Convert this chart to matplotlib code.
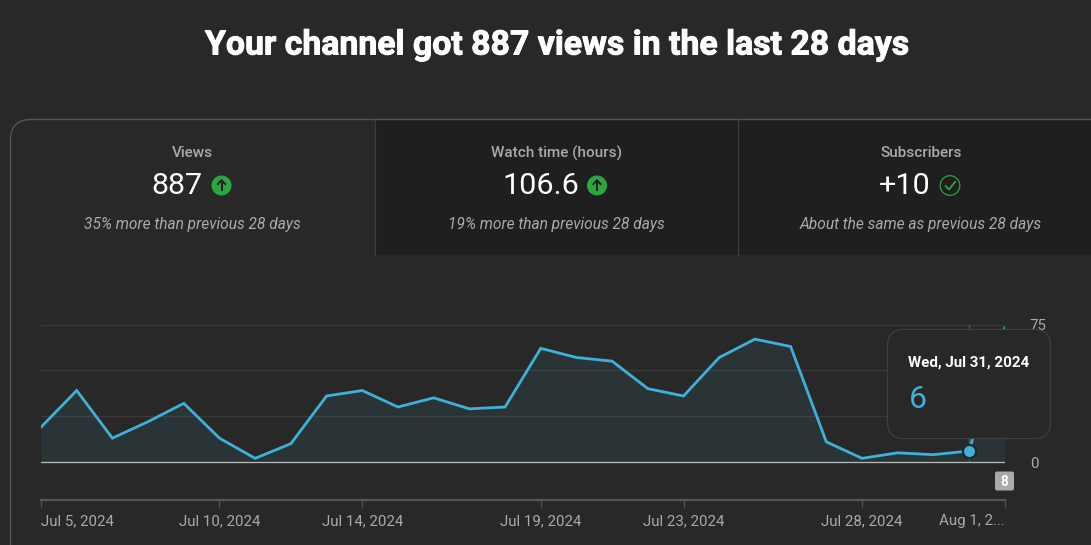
import matplotlib
matplotlib.use("Agg")
import matplotlib.pyplot as plt
import matplotlib.patheffects as pe
from matplotlib.patches import FancyBboxPatch, Rectangle, Circle, PathPatch
from matplotlib.path import Path

plt.rcParams['font.family'] = ['Roboto', 'DejaVu Sans']

W, H = 1091, 545
BG, TAB_DARK = '#282828', '#1f1f1f'
BLUE = '#3fb1d8'
px = 0.72  # font points per pixel at dpi 100

title = 'Your channel got 887 views in the last 28 days'
cards = ['Views', 'Watch time (hours)', 'Subscribers']
card_values = ['887', '106.6', '+10']
card_notes = ['35% more than previous 28 days', '19% more than previous 28 days',
              'About the same as previous 28 days']
views = [19, 39, 13, 22, 32, 13, 2, 10, 36, 39, 30, 35, 29, 30,
         62, 57, 55, 40, 36, 57, 67, 63, 11, 2, 5, 4, 6, 73]
tick_days = [0, 5, 9, 14, 18, 23, 27]
tick_labels = ['Jul 5, 2024', 'Jul 10, 2024', 'Jul 14, 2024', 'Jul 19, 2024',
               'Jul 23, 2024', 'Jul 28, 2024', 'Aug 1, 2...']
y_ticks = [0, 25, 50, 75]
y_labels = ['0', '', '', '75']
hover_day = 26
hover_date = 'Wed, Jul 31, 2024'
badge = '8'

fig = plt.figure(figsize=(W / 100, H / 100), dpi=100, facecolor=BG)

def pixel_axes(z):
    a = fig.add_axes([0, 0, 1, 1], zorder=z)
    a.set_xlim(0, W); a.set_ylim(H, 0); a.axis('off')
    a.patch.set_alpha(0)
    return a

bg = pixel_axes(0)
# dark tabs, separators, card outline
bg.add_patch(Rectangle((375, 120), W - 375, 135, fc=TAB_DARK, ec='none'))
for x in (374.5, 738):
    bg.plot([x, x], [120, 255], color='#3d3d3d', lw=0.9)
card = Path([(10.5, 545), (10.5, 140), (10.5, 119.5), (31, 119.5), (1091, 119.5)],
            [Path.MOVETO, Path.LINETO, Path.CURVE3, Path.CURVE3, Path.LINETO])
bg.add_patch(PathPatch(card, fc='none', ec='#555555', lw=1.0))

tt = bg.text(556.5, 45.5, title, color='white', fontsize=33.8 * px, fontweight='bold',
             ha='center', va='center')
tt.set_path_effects([pe.withStroke(linewidth=0.7, foreground='white')])

centers = [192.5, 556.5, 921]
val_x = [176.5, 541, 905]
icon_x = [221.5, 597, 950]
for i, (c, v) in enumerate(zip(centers, val_x)):
    bg.text(c, 153, cards[i], color='#aaaaaa', fontsize=15.2 * px, fontweight='medium',
            ha='center', va='center')
    bg.text(v, 186, card_values[i], color='white', fontsize=30.5 * px, ha='center', va='center')
    bg.text(c, 224, card_notes[i], color='#aaaaaa', fontsize=15.5 * px, style='italic',
            ha='center', va='center')
for x in icon_x[:2]:
    bg.add_patch(Circle((x, 185.5), 10, fc='#2ba640', ec='none'))
    bg.plot([x, x], [191, 180.5], color='#1f1f1f', lw=1.4, solid_capstyle='butt')
    bg.plot([x - 3.6, x, x + 3.6], [184, 180.2, 184], color='#1f1f1f', lw=1.4)
bg.add_patch(Circle((icon_x[2], 185.5), 9.8, fc='none', ec='#2ba640', lw=0.9))
bg.plot([icon_x[2] - 4.5, icon_x[2] - 1, icon_x[2] + 5], [186, 189.5, 182],
        color='#2ba640', lw=1.3)

# chart: the axes run from day 0 to day 27; y=0 at pixel 462, 75 at 324.5, floor at 499.5
ax = fig.add_axes([41 / W, (H - 499.5) / H, (1004.8 - 41) / W, (499.5 - 324.5) / H], zorder=1)
ax.set_facecolor('none')
days = list(range(len(views)))
ax.set_xlim(0, 27)
ax.set_ylim(-(499.5 - 462) / (137.5 / 75), 75)
for s in ('top', 'left', 'right'):
    ax.spines[s].set_visible(False)
ax.spines['bottom'].set_color('#555555')
ax.spines['bottom'].set_linewidth(1.6)
ax.set_xticks(tick_days, tick_labels)
ax.tick_params(axis='x', colors='#555555', length=5, width=0.9, pad=5.6)
for lab, d in zip(ax.get_xticklabels(), tick_days):
    lab.set_color('#aaaaaa'); lab.set_fontsize(15 * px)
    lab.set_ha('left' if d == 0 else 'right' if d == 27 else 'center')
ax.yaxis.tick_right()
ax.set_yticks(y_ticks, y_labels)
ax.tick_params(axis='y', colors='#aaaaaa', length=0, pad=18, labelsize=15 * px)
ax.grid(axis='y', color='#3a3a3a', lw=1.0)
ax.set_axisbelow(True)
ax.fill_between(days, views, 0, color=BLUE, alpha=0.09, lw=0, zorder=2)
ax.axvline(hover_day, ymin=(0 - ax.get_ylim()[0]) / (75 - ax.get_ylim()[0]), color='#555555', lw=0.9, zorder=2)
ax.axhline(0, color='#b8b8b8', lw=0.9, zorder=3)
ax.plot(days, views, color=BLUE, lw=2.0, zorder=4, solid_joinstyle='miter')
ax.plot(hover_day, views[hover_day], 'o', ms=9.5, mfc=BLUE, mec='#1f2a2e', mew=1.6,
        zorder=5, clip_on=False)

top = pixel_axes(2)
top.add_patch(FancyBboxPatch((887.5 + 14, 329.5 + 14), 163 - 28, 109 - 28,
                             boxstyle='round,pad=14,rounding_size=16',
                             fc=BG, ec='#3f3f3f', lw=0.9))
top.text(908, 362.5, hover_date, color='white', fontsize=15.1 * px, fontweight='bold',
         ha='left', va='center')
top.text(908.5, 399, str(views[hover_day]), color=BLUE, fontsize=32 * px,
         ha='left', va='center')
top.add_patch(FancyBboxPatch((997, 473.5), 15, 15, boxstyle='round,pad=2,rounding_size=2',
                             fc='#aaaaaa', ec='none'))
top.text(1004.7, 481.5, badge, color='white', fontsize=13.5 * px, fontweight='bold',
         ha='center', va='center')

fig.savefig('out.png', dpi=100, facecolor=BG)
